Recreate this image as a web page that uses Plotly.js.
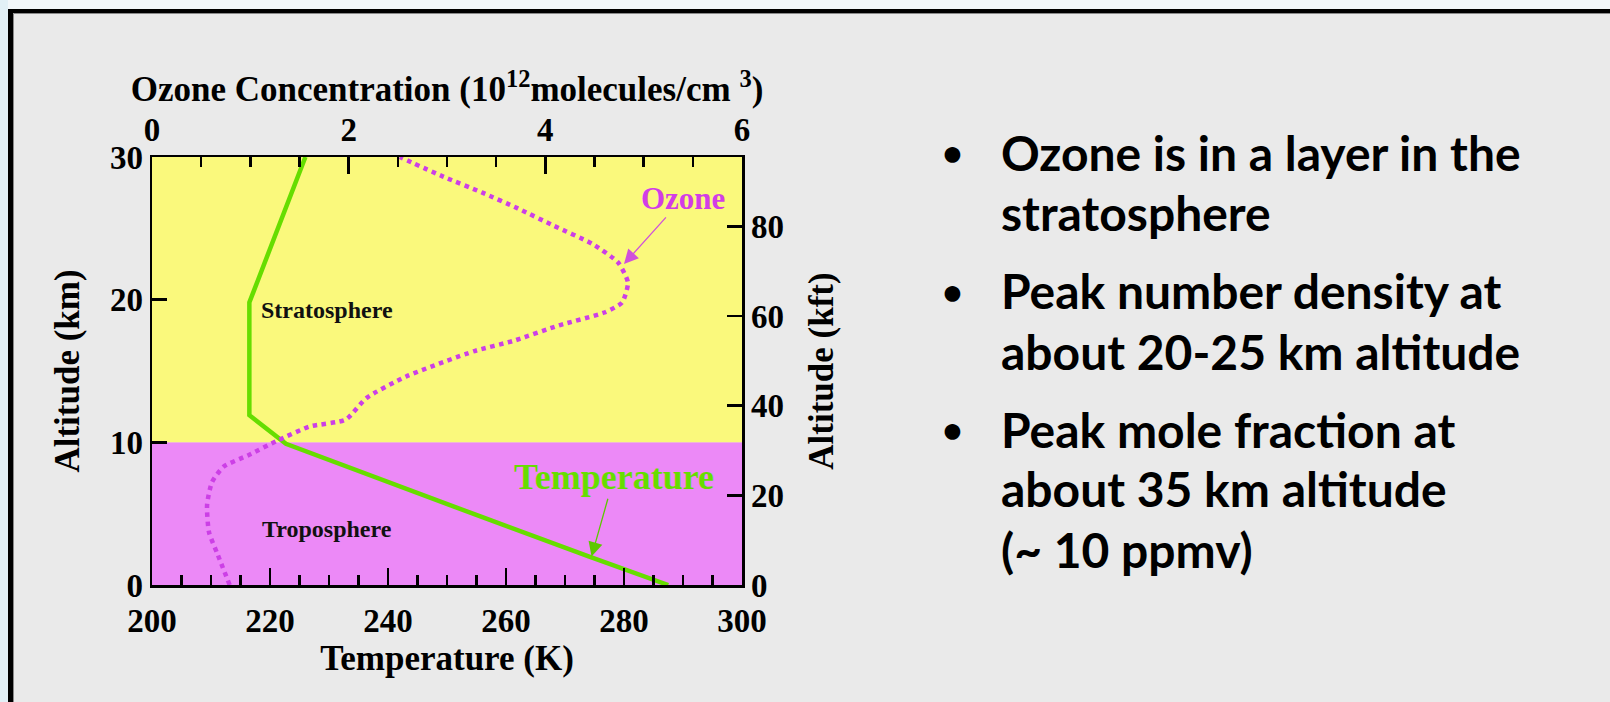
<!DOCTYPE html>
<html>
<head>
<meta charset="utf-8">
<script src="https://cdn.plot.ly/plotly-3.0.1.min.js"></script>
<style>
html,body{margin:0;padding:0;background:#F2F7FA;}
#chart{width:1610px;height:702px;}
</style>
</head>
<body>
<div id="chart"></div>
<script>
// ---- data ----
const temperatureAltKm = [0, 2, 4.75, 7.4, 9.9, 11.9, 19.8, 30];
const temperatureK     = [287.5, 274, 256, 239, 222.7, 216.5, 216.5, 226];

const ozoneAltKm = [0, 2.1, 3.7, 5.6, 7.2, 8.3, 9.1, 10.1, 11.1, 11.6, 13.1, 14.6, 16.4, 17.1, 18.2, 19.1, 19.8, 21.2, 22.6, 23.9, 25.2, 26.4, 27.5, 28.6, 30];
const ozoneConc  = [0.79, 0.67, 0.58, 0.56, 0.61, 0.73, 0.98, 1.27, 1.60, 1.97, 2.18, 2.58, 3.28, 3.67, 4.14, 4.60, 4.78, 4.84, 4.74, 4.48, 4.08, 3.72, 3.36, 2.97, 2.52];

const layerNames  = ['Troposphere', 'Stratosphere'];
const layerBottom = [0, 10];
const layerTop    = [10, 30];

const tempRange  = [200, 300];
const ozoneRange = [0, 6];
const altRangeKm = [0, 30];
const altRangeKft = [0, 95.5];   // right-hand scale as drawn in the reference

const bulletLines = [
  ['Ozone is in a layer in the', 'stratosphere'],
  ['Peak number density at', 'about 20-25 km altitude'],
  ['Peak mole fraction at', 'about 35 km altitude', '(~ 10 ppmv)']
];

// ---- layout geometry (pixels) ----
const W = 1610, H = 702;
const L = 152, R = 742, T = 157, B = 585;
const pw = R - L, ph = B - T;
const px = X => (X - L) / pw;
const py = Y => (B - Y) / ph;

const serif = 'Liberation Serif, Times New Roman, serif';
const yellow = '#FAF97C';
const pink = '#EC89F7';
const green = '#66DD00';
const magenta = '#CC3FE6';

const shapes = [];
// outer frame
shapes.push({type:'rect', xref:'paper', yref:'paper', x0:px(0), x1:px(W), y0:py(0), y1:py(9), fillcolor:'#F2F7FA', line:{width:0}, layer:'below'});
shapes.push({type:'rect', xref:'paper', yref:'paper', x0:px(0), x1:px(8), y0:py(0), y1:py(H), fillcolor:'#E2F0F6', line:{width:0}, layer:'below'});
shapes.push({type:'rect', xref:'paper', yref:'paper', x0:px(8), x1:px(W), y0:py(9), y1:py(13), fillcolor:'#000000', line:{width:0}, layer:'below'});
shapes.push({type:'rect', xref:'paper', yref:'paper', x0:px(8), x1:px(13), y0:py(9), y1:py(H), fillcolor:'#000000', line:{width:0}, layer:'below'});
shapes.push({type:'line', xref:'paper', yref:'paper', x0:px(13.5), x1:px(W), y0:py(13.5), y1:py(13.5), line:{color:'#8a8a8a', width:1}, layer:'below'});
shapes.push({type:'line', xref:'paper', yref:'paper', x0:px(13.5), x1:px(13.5), y0:py(13.5), y1:py(H), line:{color:'#8a8a8a', width:1}, layer:'below'});
// atmospheric layers
layerNames.forEach((n, i) => {
  shapes.push({type:'rect', xref:'paper', yref:'y', x0:0, x1:1, y0:layerBottom[i], y1:layerTop[i],
    fillcolor: i === 0 ? pink : yellow, line:{width:0}, layer:'below'});
});

const traces = [
  {x: temperatureK, y: temperatureAltKm, xaxis:'x', yaxis:'y', type:'scatter', mode:'lines',
   line:{color:green, width:4.5}, name:'Temperature', hoverinfo:'skip'},
  {x: ozoneConc, y: ozoneAltKm, xaxis:'x2', yaxis:'y', type:'scatter', mode:'lines',
   line:{color:magenta, width:4.5, dash:'4.5px,4.5px', shape:'spline', smoothing:0.6}, name:'Ozone', hoverinfo:'skip'},
  // invisible trace to activate right-hand kft axis
  {x:[tempRange[0]], y:[0], xaxis:'x', yaxis:'y2', type:'scatter', mode:'markers', marker:{opacity:0}, showlegend:false, hoverinfo:'skip'}
];

const annotations = [
  {xref:'x', yref:'y', x:229.6, y:19.3, text:'Stratosphere', showarrow:false, font:{family:serif, size:24, weight:'bold', color:'#111'}},
  {xref:'x', yref:'y', x:229.6, y:3.9, text:'Troposphere', showarrow:false, font:{family:serif, size:24, weight:'bold', color:'#111'}},
  {xref:'x2', yref:'y', x:4.80, y:22.5, axref:'x2', ayref:'y', ax:5.40, ay:27.1, text:'Ozone', showarrow:true,
   arrowhead:2, arrowsize:2.2, arrowwidth:1.3, arrowcolor:'#D050DC', standoff:0,
   font:{family:serif, size:31, weight:'bold', color:'#D23DE6'}},
  {xref:'x', yref:'y', x:274.5, y:2.0, axref:'x', ayref:'y', ax:278.3, ay:7.55, text:'Temperature', showarrow:true,
   arrowhead:2, arrowsize:2.2, arrowwidth:1.3, arrowcolor:'#5CC800', standoff:0,
   font:{family:serif, size:36, weight:'bold', color:'#66DD00'}}
];

// bullet text on the right
const lineY = [[152, 212.5], [290.6, 351], [429, 488, 549]];
const bulletFont = {family:'Lato, Open Sans, sans-serif', size:48, weight:'bold', color:'#000'};
bulletLines.forEach((group, g) => {
  annotations.push({xref:'paper', yref:'paper', x:px(952), y:py(lineY[g][0]), xanchor:'center', yanchor:'middle',
    text:'•', showarrow:false, font:{family:'Lato, sans-serif', size:36, weight:'bold', color:'#000'}});
  group.forEach((t, k) => {
    annotations.push({xref:'paper', yref:'paper', x:px(999), y:py(lineY[g][k]), xanchor:'left', yanchor:'middle',
      text:t, showarrow:false, font:bulletFont});
  });
});

const tickFont = {family:serif, size:33, weight:'bold', color:'#000'};
const titleFont = {family:serif, size:35, weight:'bold', color:'#000'};
const axisCommon = {showgrid:false, zeroline:false, showline:true, linecolor:'#000', linewidth:2.5,
  ticks:'inside', tickcolor:'#000', tickwidth:2.5, tickfont:tickFont, fixedrange:true};

const layout = {
  width: W, height: H,
  margin: {l:L, r:W - R, t:T, b:H - B, pad:0},
  paper_bgcolor:'#EAEAEA', plot_bgcolor:'rgba(0,0,0,0)',
  showlegend:false,
  xaxis: Object.assign({}, axisCommon, {range:tempRange, tick0:200, dtick:20, ticklen:17, side:'bottom', anchor:'y',
    ticklabelstandoff:5,
    minor:{dtick:5, ticks:'inside', ticklen:10, tickcolor:'#000', tickwidth:2.5},
    title:{text:'Temperature (K)', font:titleFont, standoff:2}}),
  xaxis2: Object.assign({}, axisCommon, {range:ozoneRange, tick0:0, dtick:2, ticklen:17, side:'top', overlaying:'x', anchor:'y',
    minor:{dtick:0.5, ticks:'inside', ticklen:10, tickcolor:'#000', tickwidth:2.5},
    title:{text:'Ozone Concentration (10<sup>12</sup>molecules/cm <sup>3</sup>)', font:titleFont, standoff:0}}),
  yaxis: Object.assign({}, axisCommon, {range:altRangeKm, tick0:0, dtick:10, ticklen:15, side:'left', anchor:'x',
    title:{text:'Altitude (km)', font:titleFont, standoff:20}}),
  yaxis2: Object.assign({}, axisCommon, {range:altRangeKft, tick0:0, dtick:20, ticklen:15,
    side:'right', overlaying:'y', anchor:'x',
    title:{text:'Altitude (kft)', font:titleFont, standoff:26}}),
  shapes: shapes,
  annotations: annotations
};

Plotly.newPlot('chart', traces, layout, {displayModeBar:false, staticPlot:true});
</script>
</body>
</html>
